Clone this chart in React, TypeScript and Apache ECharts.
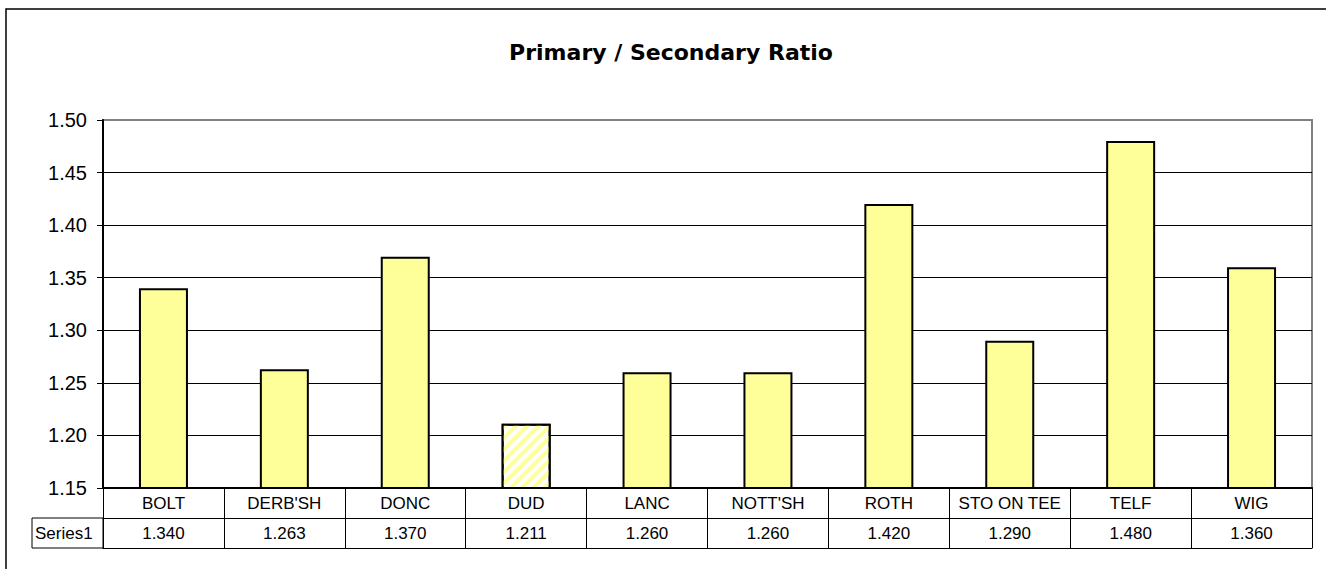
import React, { useEffect, useRef } from "react";
import * as echarts from "echarts";

const categories = ["BOLT", "DERB'SH", "DONC", "DUD", "LANC", "NOTT'SH", "ROTH", "STO ON TEE", "TELF", "WIG"];
const values = [1.34, 1.263, 1.37, 1.211, 1.26, 1.26, 1.42, 1.29, 1.48, 1.36];
const hatched = ["DUD"];
const seriesName = "Series1";
const titleText = "Primary / Secondary Ratio";
const yMin = 1.15;
const yMax = 1.5;
const yStep = 0.05;

const FONT = "'Liberation Sans', Arial, sans-serif";

export default function App() {
  const ref = useRef<HTMLDivElement>(null);
  useEffect(() => {
    document.body.style.margin = "0";
    const chart = echarts.init(ref.current!, undefined, { renderer: "svg" });
    const barData = values.map((v, i) =>
      hatched.includes(categories[i])
        ? {
            value: v,
            itemStyle: {
              color: "#FFFFFF",
              borderColor: "#000",
              borderWidth: 2,
              decal: {
                symbol: "rect",
                symbolSize: 1,
                color: "#FFFF99",
                dashArrayX: [1, 0],
                dashArrayY: [4, 4],
                rotation: -Math.PI / 4,
              },
            },
          }
        : v
    );
    chart.setOption({
      animation: false,
      backgroundColor: "#FFFFFF",
      title: {
        text: titleText,
        left: 671,
        top: 52,
        padding: 0,
        textAlign: "center",
        textVerticalAlign: "middle",
        textStyle: { fontFamily: "'DejaVu Sans', sans-serif", fontWeight: "bold", fontSize: 22, color: "#000" },
      },
      graphic: [
        {
          type: "rect",
          shape: { x: 6, y: 9, width: 1500, height: 800 },
          style: { fill: "none", stroke: "#000", lineWidth: 1.5 },
          silent: true,
          z: 100,
        },
        {
          type: "rect",
          shape: { x: 32, y: 518, width: 71, height: 30 },
          style: { fill: "none", stroke: "#000", lineWidth: 1 },
          silent: true,
          z: 100,
        },
        {
          type: "text",
          x: 35,
          y: 533,
          style: { text: seriesName, fontSize: 17, fontFamily: FONT, fill: "#000", align: "left", verticalAlign: "middle" },
          silent: true,
          z: 100,
        },
      ],
      grid: {
        left: 103,
        top: 120,
        right: 14,
        bottom: 81,
        show: true,
        borderColor: "#808080",
        borderWidth: 2,
        backgroundColor: "transparent",
        containLabel: false,
      },
      yAxis: {
        type: "value",
        min: yMin,
        max: yMax,
        interval: yStep,
        axisLine: { show: true, lineStyle: { color: "#000", width: 2 } },
        axisTick: { show: true, length: 6, lineStyle: { color: "#000", width: 1 } },
        axisLabel: {
          color: "#000",
          fontSize: 20,
          fontFamily: FONT,
          margin: 16,
          formatter: (v: number) => v.toFixed(2),
        },
        splitLine: { show: true, showMaxLine: false, lineStyle: { color: "#000", width: 1 } },
      },
      xAxis: [
        {
          type: "category",
          data: categories,
          position: "bottom",
          axisLine: { show: true, lineStyle: { color: "#000", width: 2 } },
          axisTick: { show: true, interval: 0, length: 60, lineStyle: { color: "#000", width: 1 } },
          axisLabel: { interval: 0, color: "#000", fontSize: 17, fontFamily: FONT, margin: 15, verticalAlign: "middle" },
        },
        {
          type: "category",
          data: values.map((v) => v.toFixed(3)),
          position: "bottom",
          offset: 30,
          axisLine: { show: true, lineStyle: { color: "#000", width: 1 } },
          axisTick: { show: false },
          axisLabel: { interval: 0, color: "#000", fontSize: 17, fontFamily: FONT, margin: 15, verticalAlign: "middle" },
        },
        {
          type: "category",
          data: categories,
          position: "bottom",
          offset: 60,
          axisLine: { show: true, lineStyle: { color: "#000", width: 1 } },
          axisTick: { show: false },
          axisLabel: { show: false },
        },
      ],
      series: [
        {
          type: "bar",
          name: seriesName,
          xAxisIndex: 0,
          data: barData,
          barWidth: 49,
          itemStyle: { color: "#FFFF99", borderColor: "#000", borderWidth: 2 },
        },
      ],
    });
    return () => chart.dispose();
  }, []);
  return <div ref={ref} style={{ width: 1326, height: 569 }} />;
}
